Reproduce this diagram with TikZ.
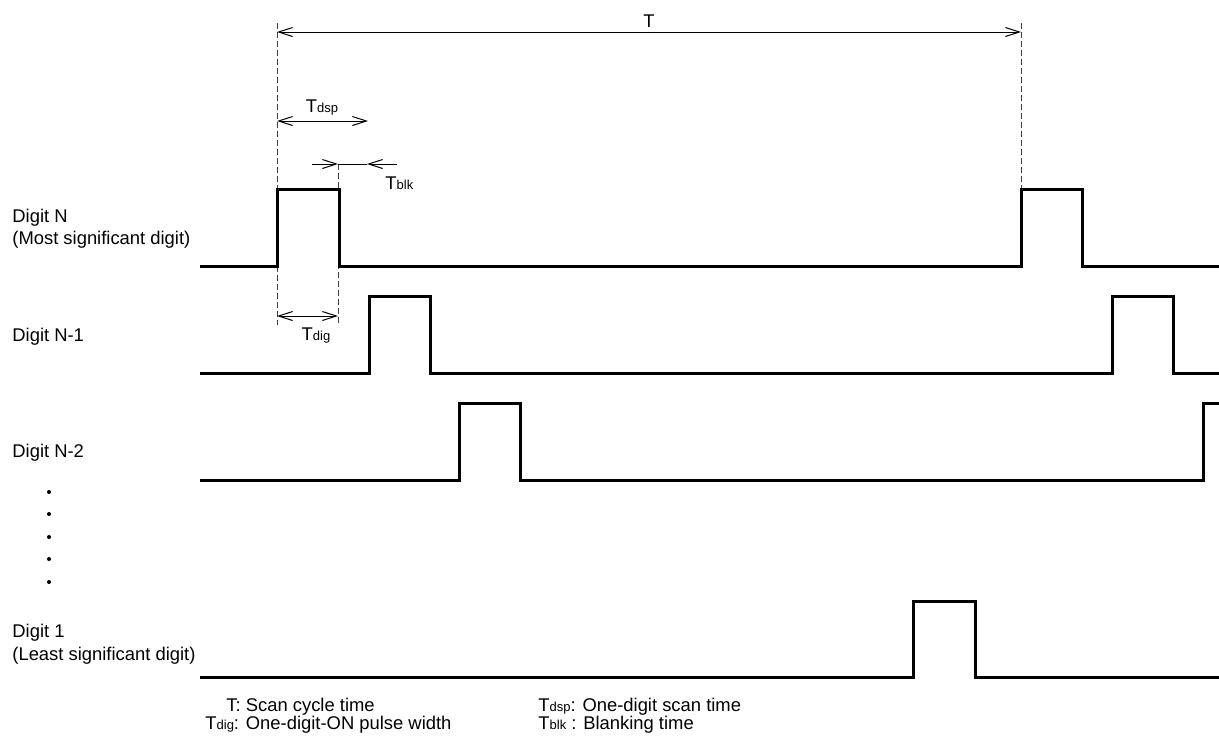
\documentclass[tikz,border=0pt]{standalone}
\usepackage{fontspec}
\setmainfont{Liberation Sans}
\usetikzlibrary{arrows.meta}
\newcommand{\lowtxt}[1]{{\fontsize{6.5}{7}\selectfont #1}}

\begin{document}
\begin{tikzpicture}[x=0.5pt,y=-0.5pt,
  every node/.style={inner sep=0pt,font=\fontsize{9.2}{10}\selectfont},
  sig/.style={line width=1.5pt},
  dim/.style={line width=0.5pt},
  guide/.style={line width=0.5pt,black!75,dash pattern=on 3pt off 1.5pt},
  >={Straight Barb[length=7pt,width=4.5pt]}]
\useasboundingbox (0,0) rectangle (1219,736);
%标注
\coordinate (Ta) at (277,32);
\coordinate (Tb) at (1021,32);
\coordinate (dspA) at (277,121);
\coordinate (dspB) at (368,121);
\coordinate (blkL) at (312,164);
\coordinate (blkA) at (338,164);
\coordinate (blkB) at (367,164);
\coordinate (blkR) at (397,164);
\coordinate (digA) at (277,316);
\coordinate (digB) at (338,316);
\draw[guide] (277,23) -- (277,325);
\draw[guide] (1021,23) -- (1021,189);
\draw[guide] (338,164) -- (338,325);
\draw[dim,<->] (Ta) -- (Tb);
\draw[dim,<->] (dspA) -- (dspB);
\draw[dim,->] (blkL) -- (blkA);
\draw[dim] (blkA) -- (blkB);
\draw[dim,<-] (blkB) -- (blkR);
\draw[dim,<->] (digA) -- (digB);
\node[anchor=base] (T) at (649,27) {T};
\node[anchor=base] (Tdsp) at (322,112) {T\lowtxt{dsp}};
\node[anchor=base west] (Tblk) at (385,189) {T\lowtxt{blk}};
\node[anchor=base] (Tdig) at (316,340) {T\lowtxt{dig}};
%信号
\draw[sig] (200,266) -- (277,266) -- (277,189) -- (339,189) -- (339,266) -- (1021,266) -- (1021,189) -- (1082,189) -- (1082,266) -- (1219,266);
\draw[sig] (200,373) -- (369,373) -- (369,296) -- (430,296) -- (430,373) -- (1112,373) -- (1112,296) -- (1173,296) -- (1173,373) -- (1219,373);
\draw[sig] (200,480) -- (459,480) -- (459,403) -- (520,403) -- (520,480) -- (1203,480) -- (1203,403) -- (1219,403);
\draw[sig] (200,677) -- (913,677) -- (913,601) -- (975,601) -- (975,677) -- (1219,677);
%左
\node[anchor=base west] (dN) at (12,222) {Digit N};
\node[anchor=base west] (dNmsd) at (12,244) {(Most significant digit)};
\node[anchor=base west] (dN1) at (12,341) {Digit N-1};
\node[anchor=base west] (dN2) at (12,457) {Digit N-2};
\fill (49,492) circle (2);
\fill (49,514) circle (2);
\fill (49,537) circle (2);
\fill (49,559) circle (2);
\fill (49,582) circle (2);
\node[anchor=base west] (d1) at (12,637) {Digit 1};
\node[anchor=base west] (d1lsd) at (12,660) {(Least significant digit)};
%下
\node[anchor=base west] (keyT) at (226,711) {T: Scan cycle time};
\node[anchor=base west] (keyDig) at (205,729) {T\lowtxt{dig}: One-digit-ON pulse width};
\node[anchor=base west] (keyDsp) at (538,711) {T\lowtxt{dsp}: One-digit scan time};
\node[anchor=base west] (keyBlk) at (538,729) {T\lowtxt{blk} : Blanking time};
\end{tikzpicture}
\end{document}
